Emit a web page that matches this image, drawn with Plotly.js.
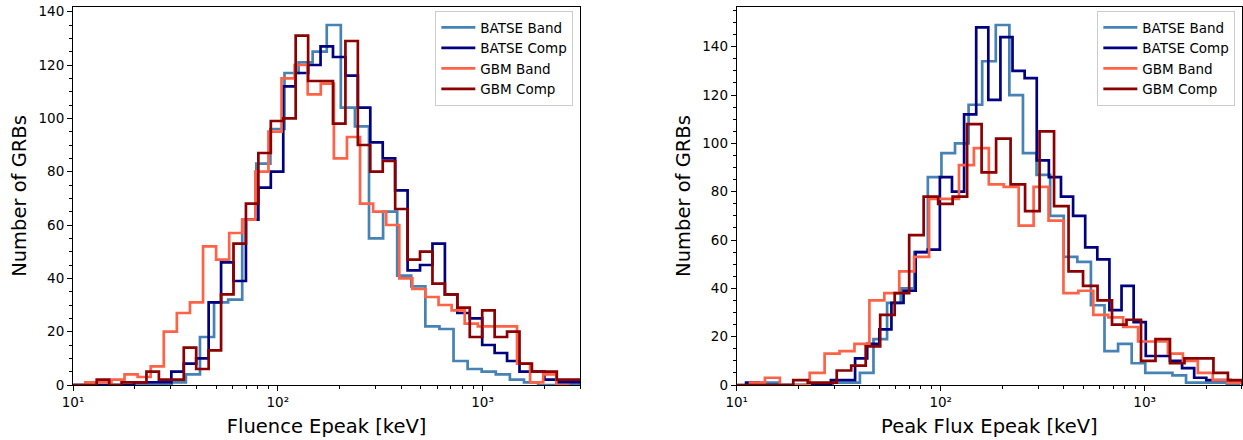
<!DOCTYPE html>
<html><head><meta charset="utf-8">
<script src="https://cdn.plot.ly/plotly-3.0.1.min.js"></script>
<style>html,body{margin:0;padding:0;background:#fff}#chart{width:1243px;height:440px}</style>
</head><body><div id="chart"></div>
<script>
// ---------- data ----------
const seriesNames = ['BATSE Band', 'BATSE Comp', 'GBM Band', 'GBM Comp'];
const seriesColors = ['#4682B4', '#000080', '#FF6347', '#8B0000'];

// Fluence Epeak histograms: first bin edge [keV], log10 bin width, counts per bin
const fluBatseBandLo = 10.02, fluBatseBandStep = 0.0688;
const fluBatseBandCounts = [0,0,0,0,0,0,0,1,4,18,31,32,62,83,96,117,121,125,135,104,97,55,65,41,37,22,21,9,6,5,4,2,1,0,0,0];
const fluBatseCompLo = 9.872, fluBatseCompStep = 0.06073;
const fluBatseCompCounts = [0,0,0,0,0,1,1,1,5,8,10,31,46,39,62,74,80,112,117,120,127,123,116,104,91,85,73,43,45,53,34,27,25,15,12,9,5,5,2,1,1];
const fluGbmBandLo = 11.48, fluGbmBandStep = 0.0639;
const fluGbmBandCounts = [1,1,2,4,3,7,20,27,31,52,47,57,62,80,95,115,120,109,113,85,93,68,65,60,40,36,33,30,28,23,22,22,22,8,1,4,0];
const fluGbmCompLo = 9.872, fluGbmCompStep = 0.06073;
const fluGbmCompCounts = [0,0,2,0,1,1,5,2,2,14,6,13,34,53,68,87,99,100,131,114,114,98,129,90,80,84,66,47,50,38,34,29,18,28,18,20,8,5,5,2,2];

// Peak Flux Epeak histograms
const pfBatseBandLo = 10.10, pfBatseBandStep = 0.06662;
const pfBatseBandCounts = [0,1,1,0,0,0,0,1,1,5,19,34,40,55,86,96,100,116,134,149,120,96,87,70,53,51,33,14,17,9,5,5,4,1,1,1,0];
const pfBatseCompLo = 11.119, pfBatseCompStep = 0.05937;
const pfBatseCompCounts = [1,0,0,0,0,0,0,2,2,11,17,23,34,39,55,56,86,80,112,148,118,144,130,127,93,86,78,70,57,52,31,41,26,12,12,10,7,3,2,2,1];
const pfGbmBandLo = 11.617, pfGbmBandStep = 0.07318;
const pfGbmBandCounts = [1,3,0,0,5,13,14,17,35,38,47,53,77,77,91,98,83,82,66,82,68,38,39,29,28,24,18,18,13,10,5,2,1];
const pfGbmCompLo = 9.843, pfGbmCompStep = 0.07103;
const pfGbmCompCounts = [0,0,0,0,2,1,1,6,8,16,29,38,62,78,75,78,108,88,102,83,72,105,74,47,41,35,25,27,10,19,9,11,11,5,2];

const xTickVals = [10, 100, 1000];
const xTickText = ['10\u00B9', '10\u00B2', '10\u00B3'];
const xMin = 10, xMax = 3000;
const yMaxFlu = 135, yMaxPf = 149;

// ---------- build ----------
function stepTrace(lo, step, counts, idx, xa, ya, legend) {
  const edge = i => lo * Math.pow(10, i * step);
  const x = [edge(0)], y = [0];
  counts.forEach((c, i) => { x.push(edge(i)); y.push(c); });
  x.push(edge(counts.length)); y.push(0);
  return {
    type: 'scatter', mode: 'lines', x: x, y: y, name: seriesNames[idx],
    line: {color: seriesColors[idx], width: 2.7, shape: 'hv'},
    xaxis: xa, yaxis: ya, legend: legend, hoverinfo: 'skip'
  };
}

const traces = [
  stepTrace(fluBatseBandLo, fluBatseBandStep, fluBatseBandCounts, 0, 'x', 'y', 'legend'),
  stepTrace(fluBatseCompLo, fluBatseCompStep, fluBatseCompCounts, 1, 'x', 'y', 'legend'),
  stepTrace(fluGbmBandLo, fluGbmBandStep, fluGbmBandCounts, 2, 'x', 'y', 'legend'),
  stepTrace(fluGbmCompLo, fluGbmCompStep, fluGbmCompCounts, 3, 'x', 'y', 'legend'),
  stepTrace(pfBatseBandLo, pfBatseBandStep, pfBatseBandCounts, 0, 'x2', 'y2', 'legend2'),
  stepTrace(pfBatseCompLo, pfBatseCompStep, pfBatseCompCounts, 1, 'x2', 'y2', 'legend2'),
  stepTrace(pfGbmBandLo, pfGbmBandStep, pfGbmBandCounts, 2, 'x2', 'y2', 'legend2'),
  stepTrace(pfGbmCompLo, pfGbmCompStep, pfGbmCompCounts, 3, 'x2', 'y2', 'legend2')
];

const minorX = [];
[10, 100, 1000].forEach(d => { for (let m = 2; m <= 9; m++) if (d * m <= xMax) minorX.push(d * m); });

const FONT = 'DejaVu Sans, Liberation Sans, sans-serif';
const common = {
  showline: true, linecolor: '#000', linewidth: 1, mirror: true,
  ticks: 'outside', ticklen: 5, tickwidth: 1, tickcolor: '#000',
  showgrid: false, zeroline: false,
  tickfont: {family: FONT, size: 13.5, color: '#000'}
};
function xAxis(domain, anchor, title) {
  return Object.assign({}, common, {
    type: 'log', domain: domain, anchor: anchor,
    range: [Math.log10(xMin), Math.log10(xMax)],
    tickmode: 'array', tickvals: xTickVals, ticktext: xTickText,
    minor: {tickmode: 'array', tickvals: minorX, ticks: 'outside', ticklen: 3, tickwidth: 1, tickcolor: '#000'},
    title: {text: title, font: {family: FONT, size: 19.5, color: '#000'}, standoff: 10}
  });
}
function yAxis(anchor, ymax) {
  return Object.assign({}, common, {
    anchor: anchor, domain: [0, 1], range: [0, ymax * 1.05],
    tickmode: 'linear', tick0: 0, dtick: 20,
    minor: {dtick: 5, ticks: 'outside', ticklen: 3, tickwidth: 1, tickcolor: '#000'},
    title: {text: 'Number of GRBs', font: {family: FONT, size: 19.5, color: '#000'}, standoff: 6}
  });
}
const legendBase = {
  bgcolor: 'rgba(255,255,255,0.85)', bordercolor: '#cccccc', borderwidth: 1,
  font: {family: FONT, size: 13.5, color: '#000'},
  xanchor: 'right', yanchor: 'top', itemwidth: 34, tracegroupgap: 0
};

const layout = {
  width: 1243, height: 440,
  margin: {l: 73, r: 1, t: 7, b: 55},
  paper_bgcolor: '#fff', plot_bgcolor: '#fff',
  font: {family: FONT, color: '#000'},
  xaxis: xAxis([0, 0.43388], 'y', 'Fluence Epeak [keV]'),
  yaxis: yAxis('x', yMaxFlu),
  xaxis2: xAxis([0.56775, 1], 'y2', 'Peak Flux Epeak [keV]'),
  yaxis2: yAxis('x2', yMaxPf),
  legend: Object.assign({}, legendBase, {x: 0.428, y: 0.9894}),
  legend2: Object.assign({}, legendBase, {x: 0.9943, y: 0.9894}),
  showlegend: true
};

Plotly.newPlot('chart', traces, layout, {displayModeBar: false, staticPlot: true});
</script></body></html>
